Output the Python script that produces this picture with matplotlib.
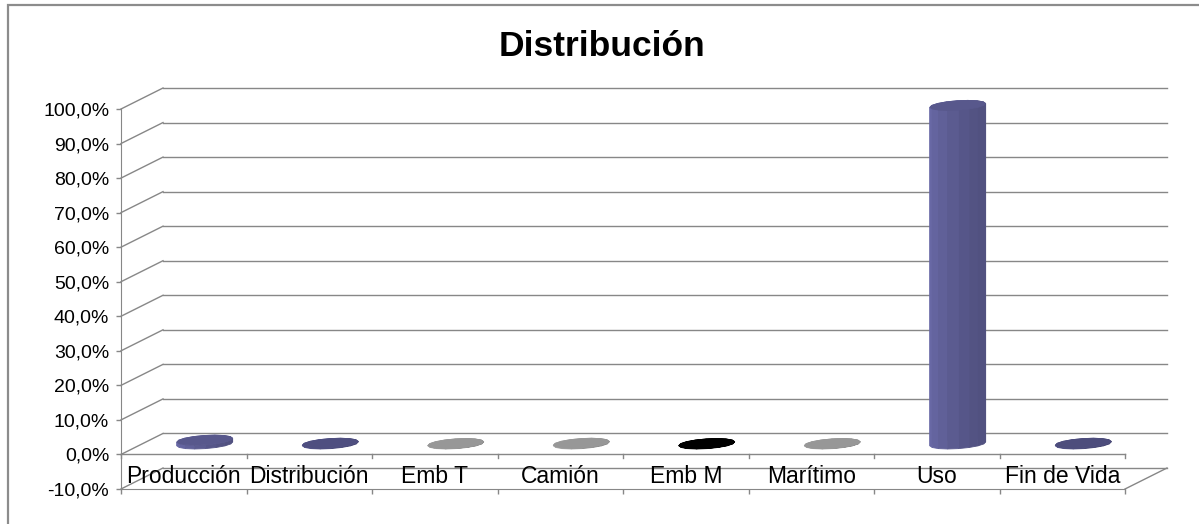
import numpy as np
import matplotlib
matplotlib.use("Agg")
import matplotlib.pyplot as plt
from matplotlib.patches import Polygon, Rectangle
from matplotlib.colors import to_rgb

plt.rcParams['font.family'] = ['Liberation Sans', 'DejaVu Sans']

categorias = ['Producción', 'Distribución', 'Emb T', 'Camión', 'Emb M',
              'Marítimo', 'Uso', 'Fin de Vida']
valores = [1.1, 0.2, 0.1, 0.2, 0.1, 0.1, 98.0, 0.2]   # %
colores = ['#62629c', '#58588e', '#a8a8a8', '#a8a8a8', '#000000',
           '#a8a8a8', '#62629c', '#55558a']
y_ticks = np.arange(-10, 101, 10)

W, H, DPI = 1199, 524, 100
fig = plt.figure(figsize=(W / DPI, H / DPI), dpi=DPI)

# area del grafico (plano frontal)
x0, x1, y_top, y_bot = 121, 1125, 109, 489
ax = fig.add_axes([x0 / W, (H - y_bot) / H, (x1 - x0) / W, (y_bot - y_top) / H])
n = len(categorias)
ax.set_xlim(0, n)
ax.set_ylim(-10, 100)

# pixeles por unidad y vector de profundidad (en unidades de datos)
px_x = (x1 - x0) / n
px_y = (y_bot - y_top) / 110
dx, dy = 42 / px_x, 21 / px_y
gris = '#878787'

# paredes: lineas de division
for v in y_ticks:
    ax.plot([dx, n + dx], [v + dy, v + dy], color=gris, lw=1, clip_on=False, zorder=1)
    ax.plot([0, dx], [v, v + dy], color=gris, lw=1, clip_on=False, zorder=1)
ax.plot([n, n + dx], [-10, -10 + dy], color=gris, lw=1, clip_on=False, zorder=1)

# linea del 0% con marcas
tick_len = 4 / px_y
ax.plot([0, n], [0, 0], color=gris, lw=1, clip_on=False, zorder=1)
for i in range(n + 1):
    ax.plot([i, i], [0, -tick_len], color=gris, lw=1, clip_on=False, zorder=1)

# cilindros (caras facetadas)
r = 26 / px_x
f = 0.24
th = np.linspace(0, 2 * np.pi, 17)
for i, (v, c) in enumerate(zip(valores, colores)):
    cx = i + 0.5 + dx / 2
    cy = dy / 2
    base = np.array(to_rgb(c))
    xs = cx + r * np.cos(th) + f * dx * np.sin(th)
    ys_off = cy + f * dy * np.sin(th)
    caras = []
    for k in range(len(th) - 1):
        tm = 0.5 * (th[k] + th[k + 1])
        caras.append((np.sin(tm), k, tm))
    caras.sort(reverse=True)
    for _, k, tm in caras:
        fac = 0.95 - 0.13 * np.cos(tm)
        col = np.clip(base * fac, 0, 1)
        pts = [(xs[k], ys_off[k]), (xs[k + 1], ys_off[k + 1]),
               (xs[k + 1], ys_off[k + 1] + v), (xs[k], ys_off[k] + v)]
        ax.add_patch(Polygon(pts, closed=True, fc=col, ec=col, lw=0.6,
                             clip_on=False, zorder=3))
    tapa = np.column_stack([xs, ys_off + v])
    col_t = np.clip(base * 0.9, 0, 1)
    ax.add_patch(Polygon(tapa, closed=True, fc=col_t, ec=col_t, lw=0.6,
                         clip_on=False, zorder=4))

# etiquetas de categorias
for i, cat in enumerate(categorias):
    ax.text(i + 0.5, -6.5, cat, ha='center', va='center', fontsize=16.5,
            color='black', zorder=5)

# ejes
for s in ['top', 'right']:
    ax.spines[s].set_visible(False)
ax.spines['left'].set_color(gris)
ax.spines['bottom'].set_color(gris)
ax.set_yticks(y_ticks)
ax.set_yticklabels([f'{t:.1f}%'.replace('.', ',') for t in y_ticks], fontsize=14)
ax.set_xticks(np.arange(n + 1))
ax.set_xticklabels([])
ax.tick_params(axis='both', color=gris, length=3.5, width=1, direction='out')
ax.tick_params(axis='y', pad=5)
ax.patch.set_visible(False)

fig.text(602 / W, (H - 56) / H, 'Distribución', ha='center', va='baseline',
         fontsize=25.5, fontweight='bold')

# marco del grafico
fig.add_artist(Rectangle((8 / W, -0.1), 1.2, (H - 5) / H + 0.1, transform=fig.transFigure,
                         fill=False, ec='#8c8c8c', lw=1.6))

fig.savefig('out.png', dpi=DPI)
